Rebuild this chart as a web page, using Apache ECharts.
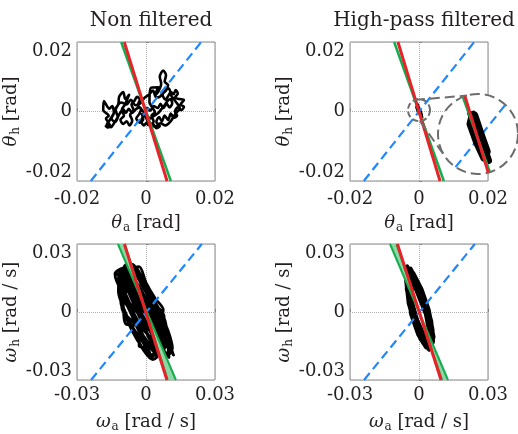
<!DOCTYPE html>
<html>
<head>
<meta charset="utf-8">
<script src="https://cdn.jsdelivr.net/npm/echarts@6/dist/echarts.min.js"></script>
<style>
html, body { margin: 0; padding: 0; background: #fff; }
#container { width: 518px; height: 434px; }
</style>
</head>
<body>
<div id="container"></div>
<script>
var FONT = 'DejaVu Serif';
var INK = '#231f20';
var RED = '#e52329', GREEN = '#14ad4d', BAND = '#8ed6a4', BLUE = '#1f87ff';
var FRAME = '#8a8a8a', ZOOMC = '#6d6d6d';

// titles and ticks
var colTitles = ['Non filtered', 'High-pass filtered'];
var thetaTicks = [-0.02, 0, 0.02];
var omegaTicks = [-0.03, 0, 0.03];

// fitted lines: two end points [x, y]
var thetaRawRed   = [[-0.0063, 0.02], [0.0061, -0.02]];
var thetaRawGreen = [[-0.0072, 0.02], [0.0072, -0.02]];
var thetaHpRed    = [[-0.0061, 0.02], [0.0061, -0.02]];
var thetaHpGreen  = [[-0.0072, 0.02], [0.0072, -0.02]];
var thetaIdentity = [[-0.016, -0.02], [0.016, 0.02]];

var omegaRawRed   = [[-0.0094, 0.03], [0.0091, -0.03]];
var omegaRawBandA = [[-0.0122, 0.03], [0.0130, -0.03]];
var omegaRawBandB = [[-0.0092, 0.03], [0.0094, -0.03]];
var omegaHpRed    = [[-0.0094, 0.03], [0.0096, -0.03]];
var omegaHpBandA  = [[-0.0126, 0.03], [0.0126, -0.03]];
var omegaHpBandB  = [[-0.0098, 0.03], [0.0100, -0.03]];
var omegaIdentity = [[-0.0239, -0.03], [0.0243, 0.03]];

// measured trajectories [x, y]
var thetaRawPath = [
  [-0.0118,-0.0040],[-0.0112,-0.0046],[-0.0104,-0.0042],[-0.0110,-0.0030],[-0.0116,-0.0020],[-0.0108,-0.0012],
  [-0.0124,0.0004],[-0.0122,0.0030],[-0.0106,0.0008],[-0.0098,0.0016],[-0.0093,-0.0004],[-0.0100,-0.0020],
  [-0.0090,-0.0030],[-0.0082,-0.0016],[-0.0088,0.0004],[-0.0080,0.0022],[-0.0078,0.0042],[-0.0066,0.0056],
  [-0.0060,0.0036],[-0.0049,0.0048],[-0.0062,0.0018],[-0.0070,0.0006],[-0.0064,-0.0012],[-0.0074,-0.0024],
  [-0.0066,-0.0036],[-0.0056,-0.0028],[-0.0048,-0.0040],[-0.0040,-0.0026],[-0.0046,-0.0010],[-0.0036,0.0004],
  [-0.0042,0.0020],[-0.0034,0.0030],[-0.0026,0.0042],[-0.0018,0.0034],[-0.0024,0.0018],[-0.0014,0.0008],
  [-0.0020,-0.0008],[-0.0028,-0.0020],[-0.0018,-0.0032],[-0.0008,-0.0022],[-0.0012,-0.0008],[-0.0002,-0.0014],
  [0.0006,-0.0030],[0.0014,-0.0040],[0.0022,-0.0028],[0.0016,-0.0012],[0.0026,-0.0002],[0.0018,0.0012],
  [0.0010,0.0026],[0.0014,0.0068],[0.0035,0.0070],[0.0026,0.0046],[0.0036,0.0058],[0.0044,0.0080],
  [0.0040,0.0100],[0.0050,0.0118],[0.0058,0.0104],[0.0054,0.0086],[0.0064,0.0076],[0.0058,0.0060],
  [0.0048,0.0050],[0.0056,0.0034],[0.0064,0.0044],[0.0072,0.0056],[0.0080,0.0050],[0.0086,0.0062],
  [0.0092,0.0052],[0.0084,0.0040],[0.0096,0.0036],[0.0110,0.0033],[0.0100,0.0020],[0.0110,0.0014],
  [0.0102,0.0004],[0.0092,0.0012],[0.0084,0.0000],[0.0090,-0.0012],[0.0080,-0.0018],[0.0072,-0.0006],
  [0.0064,-0.0024],[0.0054,-0.0012],[0.0046,-0.0028],[0.0038,-0.0016],[0.0030,-0.0030],[0.0040,-0.0042],
  [0.0030,-0.0048],[0.0020,-0.0036],[0.0006,-0.0039],[0.0002,-0.0032],[-0.0006,-0.0040],[-0.0014,-0.0028],
  [-0.0004,-0.0006],[0.0004,0.0010],[0.0012,0.0002],[0.0022,0.0016],[0.0034,0.0010],[0.0042,0.0022],
  [0.0050,0.0010],[0.0060,0.0022],[0.0068,0.0012],[0.0076,0.0024],[0.0070,0.0036],[0.0062,0.0030],
  [0.0054,0.0018],[0.0044,0.0006],[0.0036,-0.0004],[0.0024,-0.0012],[0.0012,-0.0020],[0.0000,-0.0008],
  [-0.0010,0.0002],[-0.0020,0.0012],[-0.0030,0.0006],[-0.0040,-0.0004],[-0.0050,0.0008],[-0.0058,-0.0004],
  [-0.0066,0.0006],[-0.0076,-0.0006],[-0.0084,-0.0020],[-0.0094,-0.0036],[-0.0101,-0.0045],[-0.0114,-0.0038],
  [-0.0106,-0.0026],[-0.0096,-0.0010],[-0.0086,0.0012],[-0.0072,0.0026],[-0.0056,0.0020],[-0.0044,0.0034],
  [-0.0030,0.0018],[-0.0016,0.0024],[-0.0004,0.0040],[0.0008,0.0048],[0.0020,0.0060],[0.0030,0.0040],
  [0.0042,0.0044],[0.0052,0.0062],[0.0066,0.0066],[0.0074,0.0044],[0.0088,0.0026],[0.0098,0.0010],
  [0.0086,-0.0006],[0.0070,-0.0030],[0.0056,-0.0040],[0.0042,-0.0034],[0.0026,-0.0044],[0.0010,-0.0030]
];

var thetaHpPath = [
  [-0.0006,0.0022],[-0.0001,0.0008],[0.0004,-0.0006],[0.0008,-0.0017],[0.0006,-0.0012],[0.0000,0.0002],
  [-0.0005,0.0016],[-0.0003,0.0019],[0.0002,0.0004],[0.0007,-0.0010],[0.0005,-0.0015],[-0.0001,-0.0002],
  [-0.0006,0.0012],[-0.0004,0.0020]
];

var omegaRawPath = [
  [-0.0090,0.0190],[-0.0040,0.0080],[0.0030,-0.0060],[0.0080,-0.0170],[0.0060,-0.0150],[0.0000,-0.0040],[-0.0070,0.0080],[-0.0110,0.0160],
  [-0.0060,0.0210],[-0.0010,0.0110],[0.0060,-0.0020],[0.0110,-0.0150],[0.0090,-0.0180],[0.0030,-0.0100],[-0.0040,0.0000],[-0.0100,0.0080],[-0.0135,0.0168],
  [-0.0080,0.0200],[-0.0020,0.0060],[0.0040,-0.0080],[0.0060,-0.0190],[0.0020,-0.0160],[-0.0030,-0.0150],[-0.0030,-0.0060],[-0.0090,0.0040],[-0.0120,0.0120],
  [-0.0100,0.0170],[-0.0050,0.0130],[0.0000,0.0040],[0.0070,-0.0080],[0.0118,-0.0188],[0.0100,-0.0130],[0.0050,-0.0040],[-0.0020,0.0060],[-0.0070,0.0150],
  [-0.0050,0.0200],[0.0010,0.0090],[0.0080,-0.0030],[0.0090,-0.0100],[0.0050,-0.0110],[-0.0010,-0.0060],[-0.0085,-0.0055],[-0.0100,0.0040],[-0.0110,0.0100],
  [-0.0120,0.0150],[-0.0080,0.0060],[-0.0030,-0.0060],[0.0010,-0.0160],[0.0025,-0.0200],[0.0050,-0.0150],[0.0040,-0.0060],[0.0000,0.0030],[-0.0050,0.0140],[-0.0070,0.0220],
  [-0.0040,0.0160],[0.0020,0.0050],[0.0060,-0.0050],[0.0100,-0.0110],[0.0080,-0.0160],[0.0040,-0.0180],[0.0000,-0.0120],[-0.0060,-0.0040],[-0.0090,-0.0010],[-0.0110,0.0050],
  [-0.0100,0.0110],[-0.0060,0.0100],[-0.0020,0.0020],[0.0030,-0.0030],[0.0070,-0.0110],[0.0110,-0.0170],[0.0120,-0.0190],[0.0080,-0.0120],[0.0010,-0.0020],[-0.0060,0.0090],[-0.0110,0.0190],
  [-0.0080,0.0160],[-0.0030,0.0090],[0.0020,0.0000],[0.0050,-0.0130],[0.0020,-0.0200],[-0.0010,-0.0140],[-0.0050,-0.0080],[-0.0080,-0.0030],[-0.0105,0.0020],[-0.0080,0.0110],
  [-0.0060,0.0180],[-0.0010,0.0150],[0.0020,0.0060],[0.0070,0.0000],[0.0078,-0.0015],[0.0080,-0.0060],[0.0050,-0.0070],[0.0000,-0.0010],[-0.0050,0.0050],[-0.0090,0.0120],[-0.0130,0.0175],
  [-0.0100,0.0130],[-0.0040,0.0030],[0.0020,-0.0090],[0.0070,-0.0170],[0.0100,-0.0200],[0.0090,-0.0140],[0.0030,-0.0060],[-0.0030,0.0040],[-0.0080,0.0130],
  [-0.0125,0.0140],[-0.0095,0.0060],[-0.0060,-0.0020],[-0.0020,-0.0110],[0.0010,-0.0180],[0.0040,-0.0190],[0.0070,-0.0140],[0.0060,-0.0060],[0.0030,0.0020],[-0.0010,0.0110],[-0.0040,0.0190],
  [-0.0085,0.0210],[-0.0110,0.0130],[-0.0105,0.0050],[-0.0080,-0.0040],[-0.0040,-0.0120],[0.0000,-0.0170],[0.0030,-0.0110],[0.0065,-0.0030],[0.0075,0.0010],[0.0040,0.0060],[0.0000,0.0130],[-0.0030,0.0200],
  [-0.0070,0.0180],[-0.0090,0.0090],[-0.0060,0.0010],[-0.0010,-0.0080],[0.0040,-0.0130],[0.0090,-0.0190],[0.0115,-0.0160],[0.0095,-0.0080],[0.0060,0.0000],[0.0010,0.0080],[-0.0050,0.0170],
  [-0.0115,0.0180],[-0.0120,0.0090],[-0.0090,0.0000],[-0.0050,-0.0090],[-0.0010,-0.0170],[0.0030,-0.0210],[0.0060,-0.0180],[0.0080,-0.0090],[0.0070,-0.0020],[0.0030,0.0040],[-0.0020,0.0120],[-0.0060,0.0200],
  [-0.0095,0.0150],[-0.0060,0.0050],[-0.0020,-0.0040],[0.0030,-0.0140],[0.0070,-0.0200],[0.0105,-0.0180],[0.0100,-0.0100],[0.0075,-0.0050],[0.0030,0.0000],[-0.0020,0.0090],[-0.0080,0.0170],
  [-0.0105,0.0160],[-0.0075,0.0100],[-0.0045,0.0020],[-0.0015,-0.0050],[0.0015,-0.0120],[0.0045,-0.0170],[0.0085,-0.0140],[0.0070,-0.0070],[0.0040,-0.0020],[0.0005,0.0050],[-0.0035,0.0120],[-0.0065,0.0160]
];

var omegaHpPath = [
  [-0.0044,0.0200],[-0.0055,0.0140],[-0.0046,0.0060],[-0.0022,-0.0040],[0.0008,-0.0120],[0.0044,-0.0165],
  [0.0060,-0.0130],[0.0052,-0.0040],[0.0027,0.0050],[-0.0007,0.0130],[-0.0037,0.0190],[-0.0049,0.0160],
  [-0.0045,0.0080],[-0.0033,-0.0010],[-0.0002,-0.0100],[0.0031,-0.0155],[0.0055,-0.0150],[0.0058,-0.0080],
  [0.0041,0.0010],[0.0010,0.0100],[-0.0025,0.0170],[-0.0035,0.0120],[-0.0028,0.0030],[0.0001,-0.0070],
  [0.0038,-0.0140],[0.0048,-0.0100],[0.0031,-0.0010],[-0.0008,0.0090],[-0.0044,0.0180],[-0.0054,0.0150],
  [-0.0044,0.0040],[-0.0016,-0.0060],[0.0018,-0.0135],[0.0050,-0.0160],[0.0062,-0.0110],[0.0046,-0.0020],
  [0.0015,0.0070],[-0.0022,0.0150],[-0.0052,0.0200],[-0.0052,0.0100],[-0.0026,0.0000],[0.0016,-0.0090],
  [0.0045,-0.0150],[0.0046,-0.0050],[0.0010,0.0060],[-0.0035,0.0140]
];

// zoomed region of the high-pass theta panel
var zoomCenter = [0.0, 0.0004];
var zoomRadius = 0.0032;
var connectorAngles = [[-112, -106], [85, 148]];

var grids = [
  { left: 77, top: 42, width: 138, height: 139 },
  { left: 350, top: 42, width: 138, height: 139 },
  { left: 77, top: 244, width: 138, height: 139 },
  { left: 350, top: 244, width: 138, height: 139 },
  { left: 438, top: 94, width: 80, height: 80 }
];

var nameStyle = {
  fontFamily: FONT, fontSize: 18, color: INK,
  rich: {
    i: { fontFamily: FONT, fontSize: 18, fontStyle: 'italic', color: INK },
    s: { fontFamily: FONT, fontSize: 12, color: INK, padding: [9, 0, 0, 1] }
  }
};

function axisName(sym, sub, unit) {
  return '{i|' + sym + '}{s|' + sub + '} ' + unit;
}

function valueAxis(gi, ticks, name, isY, margin) {
  var ax = {
    gridIndex: gi, type: 'value',
    min: ticks[0], max: ticks[ticks.length - 1], interval: ticks[1] - ticks[0],
    name: name, nameLocation: 'middle', nameGap: isY ? 37 : 32, nameTextStyle: nameStyle,
    axisLine: { show: false },
    axisTick: { show: true, inside: true, length: 3, lineStyle: { color: FRAME } },
    axisLabel: { margin: margin, fontFamily: FONT, fontSize: 18, color: INK, showMinLabel: true, showMaxLabel: true },
    splitLine: { show: true, lineStyle: { color: '#b0b0b0', type: 'dotted', width: 1 } }
  };
  if (isY) {
    ax.axisLabel.verticalAlignMinLabel = 'bottom';
    ax.axisLabel.verticalAlignMaxLabel = 'top';
  }
  return ax;
}

function lineSeries(gi, data, color, width, dash, z, smooth) {
  return {
    type: 'line', xAxisIndex: gi, yAxisIndex: gi, data: data, smooth: smooth || false,
    showSymbol: false, symbol: 'none', silent: true, clip: true, z: z,
    lineStyle: { color: color, width: width, type: dash || 'solid', join: 'round' }
  };
}

function bandSeries(gi, edgeA, edgeB) {
  var poly = [edgeA[0], edgeB[0], edgeB[1], edgeA[1]];
  return {
    type: 'custom', xAxisIndex: gi, yAxisIndex: gi, data: [[0, 0]], clip: true, silent: true, z: 3,
    renderItem: function (params, api) {
      return {
        type: 'polygon',
        shape: { points: poly.map(function (p) { return api.coord(p); }) },
        style: { fill: BAND, stroke: null }
      };
    }
  };
}

// end points of a line inside the zoom circle
function clipToCircle(seg) {
  var p = seg[0], d = [seg[1][0] - p[0], seg[1][1] - p[1]];
  var f = [p[0] - zoomCenter[0], p[1] - zoomCenter[1]];
  var a = d[0] * d[0] + d[1] * d[1];
  var b = 2 * (f[0] * d[0] + f[1] * d[1]);
  var c = f[0] * f[0] + f[1] * f[1] - zoomRadius * zoomRadius;
  var s = Math.sqrt(b * b - 4 * a * c);
  var t1 = (-b - s) / (2 * a), t2 = (-b + s) / (2 * a);
  return [[p[0] + t1 * d[0], p[1] + t1 * d[1]], [p[0] + t2 * d[0], p[1] + t2 * d[1]]];
}

var xAxes = [
  valueAxis(0, thetaTicks, axisName('θ', 'a', '[rad]'), false, 9),
  valueAxis(1, thetaTicks, axisName('θ', 'a', '[rad]'), false, 9),
  valueAxis(2, omegaTicks, axisName('ω', 'a', '[rad / s]'), false, 6),
  valueAxis(3, omegaTicks, axisName('ω', 'a', '[rad / s]'), false, 6),
  { gridIndex: 4, type: 'value', show: false, min: zoomCenter[0] - zoomRadius, max: zoomCenter[0] + zoomRadius }
];
var yAxes = [
  valueAxis(0, thetaTicks, axisName('θ', 'h', '[rad]'), true, 5),
  valueAxis(1, thetaTicks, axisName('θ', 'h', '[rad]'), true, 5),
  valueAxis(2, omegaTicks, axisName('ω', 'h', '[rad / s]'), true, 5),
  valueAxis(3, omegaTicks, axisName('ω', 'h', '[rad / s]'), true, 5),
  { gridIndex: 4, type: 'value', show: false, min: zoomCenter[1] - zoomRadius, max: zoomCenter[1] + zoomRadius }
];

var series = [
  // theta, non filtered
  lineSeries(0, thetaRawPath, '#000', 2.6, null, 2, 0.3),
  lineSeries(0, thetaIdentity, BLUE, 2.2, [9, 5], 3),
  lineSeries(0, thetaRawGreen, GREEN, 2.5, null, 4),
  lineSeries(0, thetaRawRed, RED, 3, null, 5),
  // theta, high-pass
  lineSeries(1, thetaHpPath, '#000', 3.5, null, 2),
  lineSeries(1, thetaIdentity, BLUE, 2.2, [9, 5], 3),
  lineSeries(1, thetaHpGreen, GREEN, 2.5, null, 4),
  lineSeries(1, thetaHpRed, RED, 3, null, 5),
  // omega, non filtered
  lineSeries(2, omegaRawPath, '#000', 2.8, null, 2, 0.3),
  lineSeries(2, omegaIdentity, BLUE, 2.2, [9, 5], 3),
  bandSeries(2, omegaRawBandA, omegaRawBandB),
  lineSeries(2, omegaRawBandA, GREEN, 2, null, 4),
  lineSeries(2, omegaRawBandB, GREEN, 2, null, 4),
  lineSeries(2, omegaRawRed, RED, 3, null, 5),
  // omega, high-pass
  lineSeries(3, omegaHpPath, '#000', 4.5, null, 2),
  lineSeries(3, omegaIdentity, BLUE, 2.2, [9, 5], 3),
  bandSeries(3, omegaHpBandA, omegaHpBandB),
  lineSeries(3, omegaHpBandA, GREEN, 2, null, 4),
  lineSeries(3, omegaHpBandB, GREEN, 2, null, 4),
  lineSeries(3, omegaHpRed, RED, 3, null, 5),
  // magnified view
  lineSeries(4, clipToCircle(thetaIdentity), BLUE, 2.2, [9, 5], 11),
  lineSeries(4, thetaHpPath, '#000', 8, null, 12),
  lineSeries(4, clipToCircle(thetaHpGreen), GREEN, 2.5, null, 13),
  lineSeries(4, clipToCircle(thetaHpRed), RED, 3, null, 14)
];

var option = {
  animation: false,
  backgroundColor: '#fff',
  title: colTitles.map(function (t, i) {
    return {
      text: t, left: i ? 419 : 146, top: 6, textAlign: 'center',
      textStyle: { fontFamily: FONT, fontSize: 20, fontWeight: 'normal', color: INK }
    };
  }),
  grid: grids.map(function (g, i) {
    return Object.assign({ show: i < 4, borderColor: FRAME, borderWidth: 1, containLabel: false }, g);
  }),
  xAxis: xAxes,
  yAxis: yAxes,
  series: series
};

var chart = echarts.init(document.getElementById('container'));
chart.setOption(option);

// dashed circles and connectors of the zoom
var c1 = chart.convertToPixel({ gridIndex: 1 }, zoomCenter);
var e1 = chart.convertToPixel({ gridIndex: 1 }, [zoomCenter[0] + zoomRadius, zoomCenter[1]]);
var c2 = chart.convertToPixel({ gridIndex: 4 }, zoomCenter);
var e2 = chart.convertToPixel({ gridIndex: 4 }, [zoomCenter[0] + zoomRadius, zoomCenter[1]]);
var r1 = e1[0] - c1[0], r2 = e2[0] - c2[0];

function onCircle(c, r, deg) {
  var a = deg * Math.PI / 180;
  return [c[0] + r * Math.cos(a), c[1] + r * Math.sin(a)];
}

var graphics = [
  { type: 'circle', z: 5, shape: { cx: c2[0], cy: c2[1], r: r2 },
    style: { fill: '#fff', stroke: ZOOMC, lineWidth: 2, lineDash: [10, 5] } },
  { type: 'circle', z: 6, shape: { cx: c1[0], cy: c1[1], r: r1 },
    style: { fill: 'none', stroke: ZOOMC, lineWidth: 2, lineDash: [6, 3] } }
];
connectorAngles.forEach(function (ang) {
  var p = onCircle(c1, r1, ang[0]), q = onCircle(c2, r2, ang[1]);
  graphics.push({ type: 'line', z: 6, shape: { x1: p[0], y1: p[1], x2: q[0], y2: q[1] },
    style: { stroke: ZOOMC, lineWidth: 2, lineDash: [10, 5] } });
});
chart.setOption({ graphic: graphics });
</script>
</body>
</html>
